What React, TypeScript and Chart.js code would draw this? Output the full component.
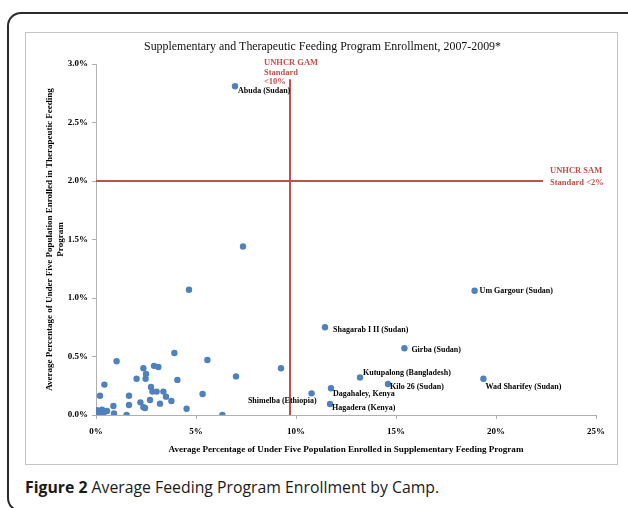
import React, { useEffect, useRef } from "react";
import { Chart, registerables } from "chart.js";

Chart.register(...registerables);

// ---- data ----
const chartTitle = "Supplementary and Therapeutic Feeding Program Enrollment, 2007-2009*";
const xAxisTitle = "Average Percentage of Under Five Population Enrolled in Supplementary Feeding Program";
const yAxisTitle = ["Average Percentage of Under Five Population Enrolled in Therapeutic Feeding", "Program"];
const caption = "Average Feeding Program Enrollment by Camp.";
const captionLead = "Figure 2";

// unlabeled camps: supplementary % (x), therapeutic % (y)
const campX = [0.05, 0.17, 0.3, 0.45, 0.55, 0.1, 0.25, 0.35, 0.2, 0.42, 0.87, 0.9, 1.03, 1.53, 1.65, 1.65, 2.03, 2.22, 2.37, 2.37, 2.45, 2.5, 2.48, 2.7, 2.75, 2.82, 2.9, 3.03, 3.12, 3.2, 3.37, 3.5, 3.77, 3.92, 4.07, 4.53, 5.33, 5.57, 6.32, 7.0, 9.25, 4.65, 7.35];
const campY = [0.04, 0.03, 0.045, 0.03, 0.035, 0.01, 0.02, 0.01, 0.165, 0.26, 0.077, 0.014, 0.46, 0.0, 0.165, 0.085, 0.31, 0.108, 0.40, 0.066, 0.06, 0.35, 0.31, 0.128, 0.24, 0.20, 0.42, 0.20, 0.41, 0.097, 0.20, 0.157, 0.12, 0.53, 0.30, 0.054, 0.18, 0.47, 0.0, 0.33, 0.40, 1.07, 1.44];

// labeled camps
const namedCamps = ["Abuda (Sudan)", "Um Gargour (Sudan)", "Shagarab I II (Sudan)", "Girba (Sudan)", "Kutupalong (Bangladesh)", "Kilo 26 (Sudan)", "Wad Sharifey (Sudan)", "Dagahaley, Kenya", "Hagadera (Kenya)", "Shimelba (Ethiopia)"];
const namedX = [6.95, 18.93, 11.45, 15.42, 13.2, 14.6, 19.37, 11.75, 11.7, 10.78];
const namedY = [2.81, 1.062, 0.75, 0.57, 0.32, 0.265, 0.31, 0.228, 0.094, 0.185];

// reference standards
const gamStandardX = 9.7;
const gamLineTop = 2.87;
const samStandardY = 2.0;
const samLineEnd = 22.35;
const gamLabel = ["UNHCR GAM", "Standard", "<10%"];
const samLabel = ["UNHCR SAM", "Standard <2%"];

const xTickStep = 5;
const yTickStep = 0.5;
const xMax = 25;
const yMax = 3;

// ---- styles (label placement relative to point, in px) ----
const labelPlacement: [number, number, CanvasTextAlign][] = [
  [3, 5, "left"],
  [5, 0, "left"],
  [8, 3, "left"],
  [7, 2, "left"],
  [3, -5, "left"],
  [2, 3, "left"],
  [2, 8, "left"],
  [2, 6, "left"],
  [2, 4, "left"],
  [5, 8, "right"],
];

const SERIF = '"Liberation Serif", "Times New Roman", serif';
const BLUE = "#4F81BD";
const RED = "#C0504D";

const labelPlugin = {
  id: "campLabels",
  afterDatasetsDraw(chart: any) {
    const ctx = chart.ctx;
    const xs = chart.scales.x;
    const ys = chart.scales.y;
    ctx.save();
    // chart title
    ctx.textBaseline = "middle";
    ctx.textAlign = "center";
    ctx.fillStyle = "#111";
    ctx.font = `11.9px ${SERIF}`;
    ctx.fillText(chartTitle, chart.width / 2 + 1, 14);
    // camp labels
    ctx.fillStyle = "#000";
    ctx.font = `bold 8px ${SERIF}`;
    namedCamps.forEach((name, i) => {
      const px = xs.getPixelForValue(namedX[i]);
      const py = ys.getPixelForValue(namedY[i]);
      const [dx, dy, align] = labelPlacement[i];
      ctx.textAlign = align;
      ctx.fillText(name, px + dx, py + dy);
    });
    // standard labels
    ctx.fillStyle = RED;
    ctx.font = `bold 8.5px ${SERIF}`;
    ctx.textAlign = "left";
    const gx = xs.getPixelForValue(gamStandardX);
    const gy = ys.getPixelForValue(gamLineTop);
    gamLabel.forEach((t, i) => ctx.fillText(t, gx - 26, gy - 16 + i * 9.5));
    const sx = xs.getPixelForValue(samLineEnd);
    const sy = ys.getPixelForValue(samStandardY);
    samLabel.forEach((t, i) => ctx.fillText(t, sx + 7, sy - 10.5 + i * 12));
    ctx.restore();
  },
};

export default function App() {
  const ref = useRef<HTMLCanvasElement | null>(null);

  useEffect(() => {
    if (!ref.current) return;
    const campPts = campX.map((x, i) => ({ x, y: campY[i] }));
    const namedPts = namedX.map((x, i) => ({ x, y: namedY[i] }));
    const chart = new Chart(ref.current, {
      type: "scatter",
      data: {
        datasets: [
          {
            label: "Camps",
            data: campPts,
            backgroundColor: BLUE,
            borderColor: BLUE,
            pointRadius: 3.2,
            borderWidth: 0,
          },
          {
            label: "Named camps",
            data: namedPts,
            backgroundColor: BLUE,
            borderColor: BLUE,
            pointRadius: 3.2,
            borderWidth: 0,
          },
          {
            type: "line",
            label: "GAM",
            data: [
              { x: gamStandardX, y: 0 },
              { x: gamStandardX, y: gamLineTop },
            ],
            borderColor: RED,
            borderWidth: 2,
            pointRadius: 0,
            showLine: true,
          } as any,
          {
            type: "line",
            label: "SAM",
            data: [
              { x: 0, y: samStandardY },
              { x: samLineEnd, y: samStandardY },
            ],
            borderColor: RED,
            borderWidth: 2,
            pointRadius: 0,
            showLine: true,
          } as any,
        ],
      },
      options: {
        animation: false,
        responsive: false,
        layout: { padding: { left: 0, right: 21, top: 31, bottom: 0 } },
        plugins: {
          legend: { display: false },
          tooltip: { enabled: false },
          title: { display: false },
        },
        scales: {
          x: {
            type: "linear",
            min: 0,
            max: xMax,
            ticks: {
              stepSize: xTickStep,
              color: "#000",
              font: { family: SERIF, size: 9, weight: "bold" },
              padding: 7,
              callback: (v: any) => `${v}%`,
            },
            grid: { drawOnChartArea: false, drawTicks: true, tickLength: 4, color: "#b0b0b0" },
            border: { display: true, color: "#b0b0b0" },
            title: {
              display: true,
              text: xAxisTitle,
              color: "#000",
              font: { family: SERIF, size: 9.1, weight: "bold" },
              padding: { top: 0, bottom: 9 },
            },
            afterFit: (s: any) => {
              s.height = 49;
            },
          },
          y: {
            type: "linear",
            min: 0,
            max: yMax,
            ticks: {
              stepSize: yTickStep,
              color: "#000",
              font: { family: SERIF, size: 9, weight: "bold" },
              padding: 4,
              callback: (v: any) => `${Number(v).toFixed(1)}%`,
            },
            grid: { drawOnChartArea: false, drawTicks: true, tickLength: 4, color: "#b0b0b0" },
            border: { display: true, color: "#b0b0b0" },
            title: {
              display: true,
              text: yAxisTitle,
              color: "#000",
              font: { family: SERIF, size: 9, weight: "bold" },
              padding: { top: 18, bottom: 0 },
            },
            afterFit: (s: any) => {
              s.width = 70;
            },
          },
        },
      },
      plugins: [labelPlugin],
    });
    return () => chart.destroy();
  }, []);

  return (
    <div
      style={{
        position: "absolute",
        left: 0,
        top: 0,
        width: 628,
        height: 508,
        overflow: "hidden",
        background: "#fff",
      }}
    >
      <div
        style={{
          position: "absolute",
          left: 7,
          top: 12,
          width: 640,
          height: 500,
          border: "2px solid #2a2a2a",
          borderRadius: 14,
          boxSizing: "border-box",
        }}
      />
      <div
        style={{
          position: "absolute",
          left: 25,
          top: 32,
          width: 591,
          height: 431,
          border: "1px solid #c4c4c4",
        }}
      >
        <canvas ref={ref} width={591} height={431} style={{ display: "block", width: 591, height: 431 }} />
      </div>
      <div
        style={{
          position: "absolute",
          left: 25,
          top: 476,
          fontFamily: '"Open Sans", "Noto Sans", sans-serif',
          fontSize: 15.8,
          color: "#1a1a1a",
          whiteSpace: "nowrap",
        }}
      >
        <b>{captionLead}</b> {caption}
      </div>
    </div>
  );
}
